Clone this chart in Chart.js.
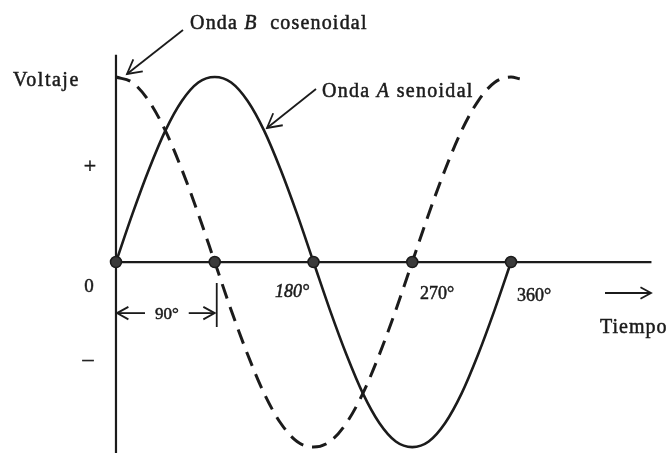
<!DOCTYPE html>
<html>
<head>
<meta charset="utf-8">
<script src="https://cdn.jsdelivr.net/npm/chart.js@4/dist/chart.umd.min.js"></script>
<style>
  body { margin: 0; background: #fff; }
  canvas { display: block; }
</style>
</head>
<body>
<canvas id="ondas" width="670" height="453"></canvas>
<script>
/* ================================
   Datos de las ondas
   ================================ */
// fase en grados, cada 15°
const grados = [0, 15, 30, 45, 60, 75, 90, 105, 120, 135, 150, 165, 180,
                195, 210, 225, 240, 255, 270, 285, 300, 315, 330, 345, 360];

// Onda A senoidal (trazo continuo)
const ondaA = [0, 0.26, 0.5, 0.71, 0.87, 0.97, 1, 0.97, 0.87, 0.71, 0.5, 0.26, 0,
               -0.26, -0.5, -0.71, -0.87, -0.97, -1, -0.97, -0.87, -0.71, -0.5, -0.26, 0];

// Onda B cosenoidal (trazo discontinuo), sigue un poco más allá de 360°
const gradosB = grados.concat([368]);
const ondaB = [1, 0.97, 0.87, 0.71, 0.5, 0.26, 0, -0.26, -0.5, -0.71, -0.87, -0.97, -1,
               -0.97, -0.87, -0.71, -0.5, -0.26, 0, 0.26, 0.5, 0.71, 0.87, 0.97, 1, 0.99];

// puntos marcados sobre el eje del tiempo
const cruces = [0, 90, 180, 270, 360];
const etiquetasCruces = ["180°", "270°", "360°"];

const INK = "#1b1b1b";
const SERIF = "'Liberation Serif', 'Times New Roman', serif";

function toPoints(xs, ys) {
  return xs.map((x, i) => ({ x: x, y: ys[i] }));
}

/* ================================
   Dibujo de ejes y rótulos
   ================================ */
function arrowHead(ctx, x0, y0, x1, y1, len) {
  const a = Math.atan2(y1 - y0, x1 - x0);
  const s = 0.5;
  ctx.beginPath();
  ctx.moveTo(x1 - len * Math.cos(a - s), y1 - len * Math.sin(a - s));
  ctx.lineTo(x1, y1);
  ctx.lineTo(x1 - len * Math.cos(a + s), y1 - len * Math.sin(a + s));
  ctx.stroke();
}

function arrow(ctx, x0, y0, x1, y1, len) {
  ctx.beginPath();
  ctx.moveTo(x0, y0);
  ctx.lineTo(x1, y1);
  ctx.stroke();
  arrowHead(ctx, x0, y0, x1, y1, len);
}

// texto con tramos en cursiva y un leve trazo para engrosar la letra
function textRuns(ctx, runs, x, y, size, spacing) {
  ctx.letterSpacing = spacing + "px";
  ctx.lineWidth = 0.5;
  runs.forEach(([txt, italic]) => {
    ctx.font = (italic ? "italic " : "") + size + "px " + SERIF;
    ctx.fillText(txt, x, y);
    ctx.strokeText(txt, x, y);
    x += ctx.measureText(txt).width;
  });
  ctx.letterSpacing = "0px";
}

function label(ctx, txt, x, y, font) {
  ctx.font = font;
  ctx.lineWidth = 0.5;
  ctx.fillText(txt, x, y);
  ctx.strokeText(txt, x, y);
}

const ejesPlugin = {
  id: "ejes",
  beforeDatasetsDraw(chart) {
    const ctx = chart.ctx;
    const sx = chart.scales.x, sy = chart.scales.y;
    ctx.save();
    ctx.strokeStyle = INK;
    ctx.lineWidth = 2.2;
    // eje vertical (voltaje)
    ctx.beginPath();
    ctx.moveTo(sx.getPixelForValue(0), sy.getPixelForValue(1.12));
    ctx.lineTo(sx.getPixelForValue(0), sy.getPixelForValue(-1.04));
    ctx.stroke();
    // eje horizontal (tiempo)
    ctx.beginPath();
    ctx.moveTo(sx.getPixelForValue(0), sy.getPixelForValue(0));
    ctx.lineTo(sx.getPixelForValue(488), sy.getPixelForValue(0));
    ctx.stroke();
    ctx.restore();
  },
  afterDraw(chart) {
    const ctx = chart.ctx;
    const sx = chart.scales.x, sy = chart.scales.y;
    const x0 = sx.getPixelForValue(0);
    const x90 = sx.getPixelForValue(90);
    const yDim = sy.getPixelForValue(-0.276);

    ctx.save();
    ctx.fillStyle = INK;
    ctx.strokeStyle = INK;
    ctx.textBaseline = "alphabetic";
    ctx.textAlign = "left";

    // rótulos del eje vertical
    textRuns(ctx, [["Voltaje", false]], 13, 86, 20, 1.5);
    ctx.textAlign = "center";
    ctx.textBaseline = "middle";
    label(ctx, "+", 90, 167, "22px " + SERIF);
    label(ctx, "–", 88, 360, "22px " + SERIF);
    ctx.textBaseline = "alphabetic";
    label(ctx, "0", 89, 292, "19px " + SERIF);

    // grados sobre el eje del tiempo
    ctx.textAlign = "left";
    label(ctx, etiquetasCruces[0], 275, 297, "italic 18px " + SERIF);
    label(ctx, etiquetasCruces[1], 420, 299, "18px " + SERIF);
    label(ctx, etiquetasCruces[2], 517, 301, "18px " + SERIF);

    // cota de 90°
    ctx.textAlign = "center";
    label(ctx, "90°", 167, 319, "17px " + SERIF);
    ctx.lineWidth = 1.8;
    arrow(ctx, x0 + 29, yDim, x0 + 1, yDim, 13);
    arrow(ctx, x90 - 26, yDim, x90, yDim, 13);
    ctx.beginPath();
    ctx.moveTo(x90 + 2, 283);
    ctx.lineTo(x90 + 2, 327);
    ctx.stroke();

    // flecha y rótulo del tiempo
    arrow(ctx, 605, 293, 651, 293, 12);
    ctx.textAlign = "left";
    textRuns(ctx, [["Tiempo", false]], 600, 333, 20, 1);

    // rótulos de las ondas con sus flechas
    textRuns(ctx, [["Onda ", false], ["B", true], ["  cosenoidal", false]], 190, 29, 20, 1.2);
    ctx.lineWidth = 1.8;
    arrow(ctx, 183, 30, 127, 74, 16);
    textRuns(ctx, [["Onda ", false], ["A", true], [" senoidal", false]], 322, 97, 20, 1.3);
    ctx.lineWidth = 1.8;
    arrow(ctx, 316, 89, 267, 128, 16);

    ctx.restore();
  }
};

/* ================================
   Gráfico
   ================================ */
new Chart(document.getElementById("ondas"), {
  type: "scatter",
  data: {
    datasets: [
      {
        label: "cruces",
        data: cruces.map((g) => ({ x: g, y: 0 })),
        showLine: false,
        pointRadius: 5.5,
        pointBackgroundColor: "#3a3a3a",
        pointBorderColor: INK,
        pointBorderWidth: 1.5
      },
      {
        label: "Onda A senoidal",
        data: toPoints(grados, ondaA),
        showLine: true,
        borderColor: INK,
        borderWidth: 2.6,
        pointRadius: 0,
        cubicInterpolationMode: "monotone"
      },
      {
        label: "Onda B cosenoidal",
        data: toPoints(gradosB, ondaB),
        showLine: true,
        borderColor: INK,
        borderWidth: 3,
        borderDash: [15, 9],
        pointRadius: 0,
        cubicInterpolationMode: "monotone"
      }
    ]
  },
  options: {
    responsive: false,
    animation: false,
    layout: { padding: 0, autoPadding: false },
    plugins: {
      legend: { display: false },
      tooltip: { enabled: false }
    },
    scales: {
      x: { type: "linear", display: false, min: -105.7, max: 504.9 },
      y: { type: "linear", display: false, min: -1.032, max: 1.416 }
    }
  },
  plugins: [ejesPlugin]
});
</script>
</body>
</html>
